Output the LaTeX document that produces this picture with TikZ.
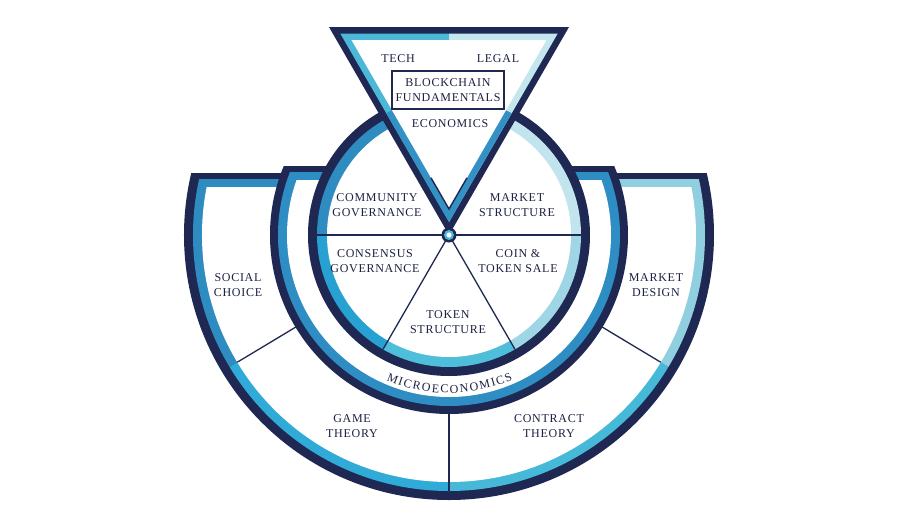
\documentclass[tikz,border=0pt]{standalone}
\usepackage{fontspec}
\setmainfont{Liberation Serif}
\newfontfamily\lsf[LetterSpace=6]{Liberation Serif}
\usetikzlibrary{calc}
\definecolor{navy}{HTML}{1E2853}
\definecolor{txt}{HTML}{1C2142}
\definecolor{bmed}{HTML}{2F8CC1}
\definecolor{bmedb}{HTML}{27A0D2}
\definecolor{bcyan}{HTML}{4FBEDB}
\definecolor{blight}{HTML}{9FD6E5}
\definecolor{bpale}{HTML}{C2E4EE}
\definecolor{mring}{HTML}{2E8DC2}
\definecolor{ocyana}{HTML}{30AAD6}
\definecolor{ocyanb}{HTML}{46B8D8}
\definecolor{olight}{HTML}{90CFE0}
\definecolor{tcyan}{HTML}{4BB8D8}
\definecolor{tpale}{HTML}{C4E6EF}
\definecolor{tmid}{HTML}{3391C5}
\newcommand\wedgefill[4]{\fill[#1] (0,0) -- (#2:#4) arc[start angle=#2, end angle=#3, radius=#4] -- cycle;}
\begin{document}
\begin{tikzpicture}[x=1pt,y=1pt,
  lbl/.style={font=\lsf\fontsize{12}{15.5}\selectfont, text=txt, align=center, inner sep=0pt},
  arcl/.style={font=\fontsize{12}{13}\selectfont, text=txt, inner sep=0pt, anchor=base},
  divider/.style={navy, line width=1.3pt}]
\useasboundingbox (-449,-285) rectangle (451,235);
\fill[white] (-449,-285) rectangle (451,235);
\coordinate (c) at (0,0);

% ---------- outer ring ----------
\begin{scope}
  \clip (-300,-300) rectangle (300,62);
  \fill[navy] (c) circle (265pt);
\end{scope}
\begin{scope}
  \clip (-300,-300) rectangle (300,56);
  \clip (c) circle (256pt);
  \wedgefill{bmed}{150}{211}{300pt}
  \wedgefill{ocyana}{211}{270}{300pt}
  \wedgefill{ocyanb}{270}{329}{300pt}
  \wedgefill{olight}{-31}{30}{300pt}
\end{scope}
\begin{scope}
  \clip (-300,-300) rectangle (300,48);
  \fill[white] (c) circle (247pt);
\end{scope}
\draw[divider] (211:178pt) -- (211:247pt);
\draw[divider] (329:178pt) -- (329:247pt);
\draw[divider] (270:178pt) -- (270:256pt);

% ---------- middle ring ----------
\begin{scope}
  \clip (-300,-300) rectangle (300,69);
  \fill[navy] (c) circle (179pt);
\end{scope}
\begin{scope}
  \clip (-300,-300) rectangle (300,63);
  \fill[mring] (c) circle (171pt);
\end{scope}
\begin{scope}
  \clip (-300,-300) rectangle (300,55);
  \fill[white] (c) circle (162pt);
\end{scope}

% ---------- inner circle ----------
\fill[navy] (c) circle (141pt);
\wedgefill{bmed}{90}{180}{132pt}
\wedgefill{bmedb}{180}{240}{132pt}
\wedgefill{bcyan}{240}{300}{132pt}
\wedgefill{blight}{300}{360}{132pt}
\wedgefill{bpale}{0}{90}{132pt}
\fill[white] (c) circle (122pt);
\draw[divider] (c) -- (0:132pt);
\draw[divider] (c) -- (180:132pt);
\draw[divider] (c) -- (240:132pt);
\draw[divider] (c) -- (300:132pt);

% ---------- triangle ----------
\coordinate (A) at (-120,208);
\coordinate (B) at (120,208);
\coordinate (I) at (0,138.667);
\coordinate (A1) at ($(I)!0.9062!(A)$);
\coordinate (B1) at ($(I)!0.9062!(B)$);
\coordinate (P1) at ($(I)!0.9062!(c)$);
\coordinate (A2) at ($(I)!0.8125!(A)$);
\coordinate (B2) at ($(I)!0.8125!(B)$);
\coordinate (P2) at ($(I)!0.8125!(c)$);
\fill[navy] (A) -- (B) -- (c) -- cycle;
\begin{scope}
  \clip (A1) -- (B1) -- (P1) -- cycle;
  \fill[tcyan] (-130,-10) rectangle (0,215);
  \fill[tpale] (0,-10) rectangle (130,215);
  \fill[tmid] (c) circle (137pt);
\end{scope}
\fill[white] (A2) -- (B2) -- (P2) -- cycle;
\begin{scope}
  \clip (c) circle (60pt);
  \draw[navy, line width=1.4pt] (A2) -- (P2) -- (B2);
\end{scope}

% ---------- centre ----------
\fill[navy] (c) circle (7.5pt);
\fill[tcyan] (c) circle (5pt);
\fill[white] (c) circle (2.6pt);

% ---------- labels ----------
\node[lbl] (tech) at (-51,176) {TECH};
\node[lbl] (legal) at (49,176) {LEGAL};
\node[lbl, draw=navy, line width=2.6pt, minimum width=112pt, minimum height=38pt] (bf) at (-1,145) {BLOCKCHAIN\\FUNDAMENTALS};
\node[lbl] (econ) at (1,111) {ECONOMICS};
\node[lbl] (comm) at (-72,30) {COMMUNITY\\GOVERNANCE};
\node[lbl] (cons) at (-74,-26) {CONSENSUS\\GOVERNANCE};
\node[lbl] (mstr) at (68,30) {MARKET\\STRUCTURE};
\node[lbl] (coin) at (69,-26) {COIN \&\\TOKEN SALE};
\node[lbl] (tok) at (-1,-87) {TOKEN\\STRUCTURE};
\node[lbl] (soc) at (-211,-50) {SOCIAL\\CHOICE};
\node[lbl] (mdes) at (207,-50) {MARKET\\DESIGN};
\node[lbl] (game) at (-97,-191) {GAME\\THEORY};
\node[lbl] (contr) at (100,-191) {CONTRACT\\THEORY};

% ---------- curved MICROECONOMICS ----------
\foreach \a/\l [count=\i] in {248.57/M, 251.78/I, 254.51/C, 257.97/R, 261.55/O, 265.01/E, 268.35/C, 271.93/O, 275.63/N, 279.34/O, 283.41/M, 286.63/I, 289.35/C, 292.57/S}
  \node[arcl, rotate=\a+90] (mic\i) at (\a:158pt) {\l};
\end{tikzpicture}
\end{document}
